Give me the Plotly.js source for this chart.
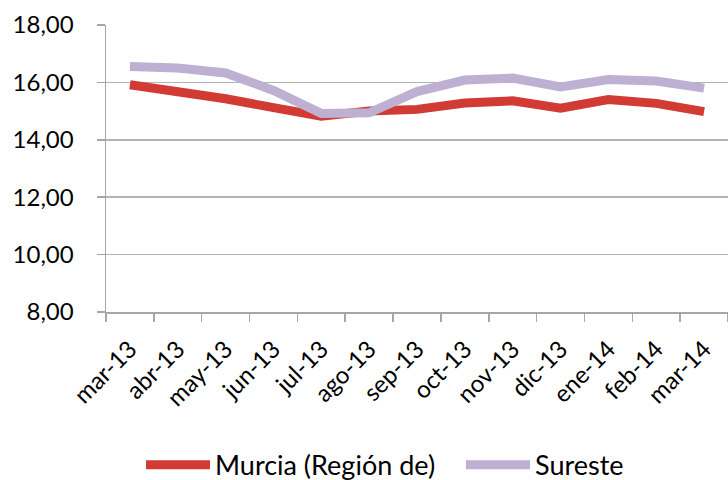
<!DOCTYPE html>
<html>
<head>
<meta charset="utf-8">
<script src="https://cdn.plot.ly/plotly-3.0.1.min.js"></script>
<style>html,body{margin:0;padding:0;background:#fff;}#chart{width:728px;height:480px;}</style>
</head>
<body>
<div id="chart"></div>
<script>
const months = ["mar-13","abr-13","may-13","jun-13","jul-13","ago-13","sep-13","oct-13","nov-13","dic-13","ene-14","feb-14","mar-14"];
const murcia = [15.92,15.70,15.43,15.12,14.82,15.00,15.06,15.28,15.36,15.10,15.40,15.27,14.98];
const sureste = [16.55,16.50,16.33,15.72,14.92,14.94,15.68,16.08,16.15,15.84,16.10,16.05,15.80];
const yTicks = [8,10,12,14,16,18];

const FONT = "Lato, 'Open Sans', sans-serif";
const traces = [
  {x: months, y: murcia, name: "Murcia (Región de)", type: "scatter", mode: "lines",
   line: {color: "#d13b33", width: 9}, legend: "legend"},
  {x: months, y: sureste, name: "Sureste", type: "scatter", mode: "lines",
   line: {color: "#bdb0d3", width: 9}, legend: "legend2"}
];
const legendBase = {orientation: "h", xanchor: "left", xref: "container",
  y: 0.031, yanchor: "middle", yref: "container",
  font: {family: FONT, size: 27, color: "#000"}, itemwidth: 64, tracegroupgap: 0,
  bgcolor: "rgba(0,0,0,0)"};
const layout = {
  width: 728, height: 480,
  margin: {l: 106, r: 0, t: 25, b: 168},
  paper_bgcolor: "#fff", plot_bgcolor: "#fff",
  font: {family: FONT, color: "#000", size: 24},
  separators: ",.",
  showlegend: true,
  legend: Object.assign({}, legendBase, {x: 141 / 728}),
  legend2: Object.assign({}, legendBase, {x: 461 / 728}),
  xaxis: {type: "category", range: [-0.5, 12.5], tickson: "boundaries", automargin: false,
          ticks: "outside", ticklen: 8, tickcolor: "#a6a6a6", tickwidth: 1.5,
          showline: true, linecolor: "#a6a6a6", linewidth: 1.5, ticklabelstandoff: 12,
          showgrid: false, tickangle: -45, tickfont: {family: FONT, size: 24}},
  yaxis: {range: [8, 18], tickvals: yTicks, tickformat: ".2f", automargin: false,
          ticks: "outside", ticklen: 8, tickcolor: "#a6a6a6", tickwidth: 1.5,
          showline: true, linecolor: "#a6a6a6", linewidth: 1.5,
          showgrid: true, gridcolor: "#b3b3b3", gridwidth: 1.5, zeroline: false,
          ticklabelstandoff: 18, tickfont: {family: FONT, size: 24}}
};
Plotly.newPlot("chart", traces, layout, {staticPlot: true});
</script>
</body>
</html>
